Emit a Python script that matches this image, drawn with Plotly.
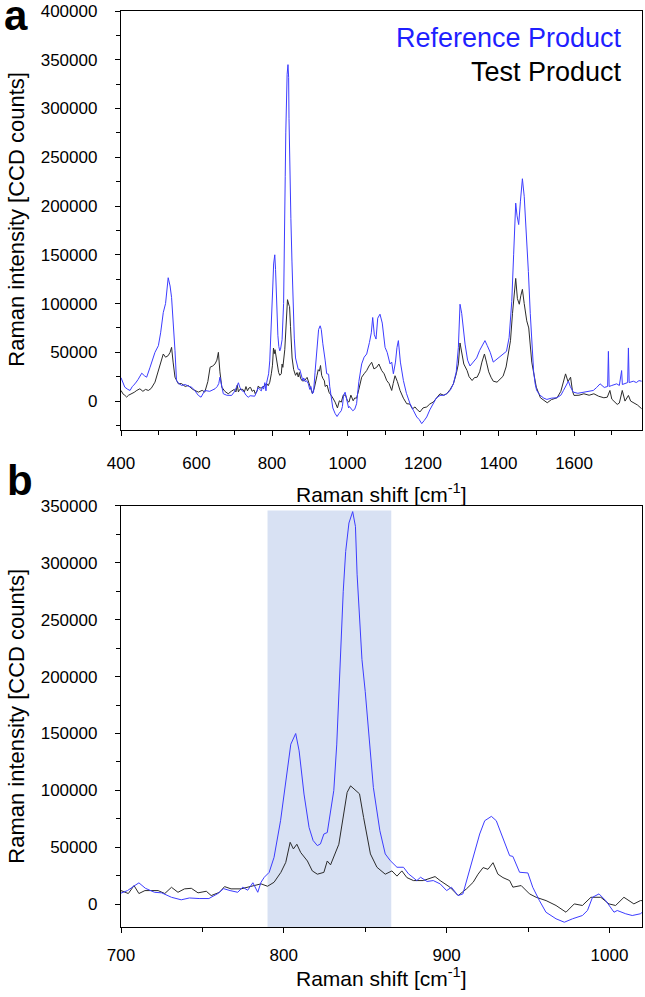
import plotly.graph_objects as go

# ---------------- data ----------------
ref_shift = [400, 405, 410, 418, 424, 430, 437, 445, 455, 462, 468, 477, 485, 490, 499, 505, 512, 518,
             525, 530, 534, 540, 543, 547, 553, 561, 570, 580, 587, 595, 605, 612, 622, 635, 649, 655,
             659, 662, 666, 671, 680, 693,
             700, 704, 708, 711, 715, 720.6, 725, 731, 737, 742, 748, 754, 759.5, 763, 767, 771.7,
             774.8, 777.8, 781, 784, 786, 788, 791, 794, 798, 802, 804.3, 807.3, 809.4, 812.4, 815.5,
             818, 820.6, 822.5, 824.6, 826.7, 830.7, 832.5, 833.8, 835, 836.5, 838, 840, 842.3, 844,
             845, 846.5, 848, 850, 852.8, 855,
             859, 862.3, 865.4, 869.5, 873.5, 876.6, 881.7, 884, 888, 891.8, 896, 900, 903, 907, 910,
             914, 917, 920.3, 923.4, 927.5, 930.5, 934.6, 938.7, 940.7, 944.8, 949.9, 952.9, 957, 961,
             967.2, 972.3, 977.3, 983.4, 986.5, 989.6, 993.6, 997.7, 1002.8, 1004.8, 1010, 1014, 1019,
             1024, 1030, 1037.5, 1044, 1050.8, 1058, 1063, 1066.7, 1071, 1075.5, 1080, 1086, 1092,
             1099.4, 1105, 1112.6, 1117, 1121.5, 1127, 1131, 1134.7, 1140, 1148, 1156, 1165.6, 1175,
             1183.3, 1190, 1196.5, 1203, 1209.8, 1218, 1227.4, 1235, 1245, 1255, 1262.7, 1272, 1280.4,
             1288, 1293.6, 1298, 1302.4, 1307, 1311.3, 1318, 1324.5, 1333, 1342, 1350, 1358, 1364,
             1370, 1378, 1386, 1392, 1400, 1410, 1421, 1428, 1435, 1440, 1445.5, 1449, 1453.4, 1458,
             1463.2, 1468, 1474.7, 1479, 1484, 1488, 1493, 1497, 1501, 1510, 1520, 1528, 1540, 1554,
             1565, 1572, 1580, 1585, 1590, 1598, 1610, 1625, 1640, 1651, 1660, 1669, 1680, 1689, 1691,
             1693, 1700, 1713, 1720, 1726, 1728, 1735, 1742, 1744, 1746, 1757, 1765, 1772, 1779]
ref_intensity = [24000, 20000, 14300, 12000, 10900, 15000, 17700, 22000, 28600, 26000, 24500, 34700,
                 45000, 50000, 56800, 70000, 90800, 100000, 126500, 118000, 106100, 75000, 51700, 21100,
                 18000, 16000, 17000, 15000, 14300, 11000, 5800, 4000, 10900, 10000, 12600, 15000, 18000,
                 24500, 15000, 7500, 6000, 5800,
                 9400, 12000, 16000, 18800, 14000, 10500, 10000, 6100, 3900, 5500, 5000, 5000, 9400,
                 13700, 12000, 10500, 15000, 12300, 18900, 10500, 19300, 23700, 28000, 41200, 73400,
                 117000, 140600, 150000, 134800, 96800, 67500, 56000, 51500, 53000, 61700, 63000, 100000,
                 140000, 187000, 230000, 275000, 310000, 335000, 345000, 332000,
                 290000, 250000, 215000, 187000, 143600, 102600,
                 64600, 44200, 38300,
                 32500, 32500, 26700, 20800, 23700, 20000, 20800, 17900, 12000, 14900, 7600, 9100, 29600,
                 44200, 61700, 73400, 77200, 73400, 58800, 42700, 42000, 28100, 27500, 14900, 3200, -7000,
                 -12800, -15800, -12800, -9900, -5500, 6100, 9100, 3200, -7000, -5500, -8400, -9900, -8400,
                 -2700, 20000, 38100, 45000, 48300, 60000, 70000, 85700, 68000, 63600, 85000, 89100, 80000,
                 55100, 50000, 38100, 40000, 28000, 40000, 55000, 62000, 40000, 21100, 8000, -2700, -10000,
                 -16300, -19000, -23100, -20000, -16300, -9000, -2700, 3000, 5800, 6000, 7500, 11000, 17700,
                 30000, 55100, 99300, 90000, 70000, 58400, 42000, 36000, 40000, 44200, 52000, 58000, 62000,
                 57000, 50000, 40000, 42000, 44000, 47000, 51000, 65000, 102000, 150000, 203000, 190000,
                 181000, 205000, 228000, 210000, 170000, 133000, 90000, 58500, 30000, 17700, 10900, 6000,
                 3000, 1700, 3000, 3400, 6000, 10900, 17000, 20400, 15000, 9200, 8000, 9200, 10000, 10900,
                 14000, 17700, 14000, 15000, 51000, 15000, 16000, 17700, 16000, 31300, 17000, 18000, 19000,
                 54500, 19000, 20400, 19000, 21000, 20400]

test_shift = [400, 406, 410, 415, 420, 428, 435, 442, 450, 458, 465, 472.5, 480, 490, 498, 505, 512, 518,
              525, 530, 534, 538, 543, 552, 560, 570, 578, 590, 605, 615, 622, 630, 636, 643, 649, 654,
              658, 662, 667, 675, 684, 692,
              700, 704.5, 708, 711, 714.7, 722.8, 726.9, 731, 735, 739, 743.2, 747.3, 752.4, 755.4,
              760.5, 763.6, 767.6, 773.7, 777.8, 781.9, 786, 790, 794, 798.2, 801.2, 803.9, 805.9, 808,
              810.4, 814.5, 817.5, 820.6, 824.6, 826.7, 828.7, 833.8, 835.5, 838.9, 841, 845, 846.5, 849,
              853.2, 857.2, 862.3, 866.4, 869.5, 872.5, 875.6, 879.6, 885.7, 892.9, 896, 902, 907.1,
              912.2, 916.3, 919.3, 922.4, 925.4, 928.5, 931.5, 934.6, 938.7, 940.7, 945.8, 950.9, 955,
              961.1, 967.2, 973.3, 978.4, 983.4, 988.6, 994.7, 999.7, 1003.8, 1008.9, 1015, 1019,
              1024, 1030, 1037.5, 1044, 1050.8, 1057, 1064, 1070, 1077.3, 1083, 1090.5, 1097, 1103.8,
              1110, 1117, 1121, 1125.8, 1132, 1139.1, 1148, 1156.8, 1165, 1172, 1178.8, 1185, 1192, 1200,
              1209.8, 1218, 1227.4, 1235, 1245, 1255, 1262.7, 1272, 1280.4, 1288, 1293.6, 1298, 1302.4,
              1308, 1316.7, 1322, 1330, 1336, 1343.3, 1350, 1356, 1362.7, 1368, 1374, 1380, 1386, 1396,
              1404, 1412, 1420, 1427, 1431.6, 1437, 1441, 1445.5, 1450, 1455, 1459, 1463.2, 1468, 1474.7,
              1480, 1483.4, 1488, 1492, 1496, 1500, 1511, 1520, 1529, 1540, 1555, 1565, 1572, 1577.5,
              1584, 1590.8, 1596, 1600, 1613, 1626, 1640, 1652.6, 1665, 1679, 1688, 1695, 1700, 1714.4,
              1720, 1727.7, 1735, 1744, 1750, 1758.6, 1768, 1779]
test_intensity = [10900, 7000, 6000, 4100, 6000, 7500, 9000, 11000, 12600, 10000, 12000, 10900, 13000,
                  19400, 30000, 40000, 48300, 45000, 46600, 50000, 55100, 40000, 24500, 17700, 18000,
                  15000, 16000, 12000, 9200, 11000, 9200, 20000, 34700, 36000, 38100, 42000, 50000, 30000,
                  14300, 10000, 7500, 10000,
                  12000, 9400, 16400, 9400, 12000, 12000, 9400, 14900, 10500, 13500, 14000, 10000, 11400,
                  7600, 10500, 15500, 13500, 13500, 15000, 16400, 17900, 15800, 19300, 28000, 36800, 54400,
                  48600, 52700, 45400, 38000, 29300, 26400, 28000, 38000, 34600, 52700, 67500, 98300,
                  104000, 98300, 97000, 76300, 44200, 32500, 26400, 29300, 24700, 29300, 23400, 20800,
                  20800, 24300, 20800, 15000, 7600, 13500, 19300, 26400, 32200, 30700, 36500, 26400, 23400,
                  20800, 15000, 16400, 9100, 6100, 3200, -1100, -7000, 300, -1100, 6100, 6100, 300, -1100,
                  6100, 300, 3200,
                  3000, 12000, 24500, 28000, 31300, 36000, 39800, 33000, 34700, 38000, 31300, 28000, 21100,
                  18000, 10900, 18000, 26000, 20000, 10900, 3000, -2700, -3000, -8000, -6000, -9000, -11100,
                  -7000, -6000, -3000, -900, 3000, 7500, 6000, 7500, 12000, 17700, 28000, 38100, 59600,
                  50000, 38000, 31300, 25000, 21100, 24000, 24500, 30000, 40000, 48300, 40000, 30000, 24500,
                  20400, 19400, 22000, 25500, 35000, 50000, 61900, 90000, 110000, 125800, 105000, 99300,
                  108000, 114600, 100000, 82300, 75000, 60200, 40000, 31300, 20000, 14300, 3400, 1000,
                  -1700, 1500, 3400, 10000, 20000, 27900, 20000, 24500, 10000, 5800, 6000, 7500, 6000, 7500,
                  5000, 3400, 4000, 10900, 2000, -3400, -2000, 10900, 0, 5800, 0, -1700, -4000, -7800]

series_names = ["Reference Product", "Test Product"]
highlight_band = [790, 866]   # shaded band in panel b (cm-1)
highlight_top = 346000

# ---------------- figure ----------------
BLUE = "#3c3cff"
BLACK = "#2b2b2b"
FONT = "Liberation Sans, Arial, sans-serif"
TICK_SIZE = 17
TITLE_SIZE = 21

fig = go.Figure()
for xa, ya in (("x", "y"), ("x2", "y2")):
    fig.add_trace(go.Scatter(x=test_shift, y=test_intensity, mode="lines", name=series_names[1],
                             line=dict(color=BLACK, width=1), xaxis=xa, yaxis=ya, showlegend=False))
    fig.add_trace(go.Scatter(x=ref_shift, y=ref_intensity, mode="lines", name=series_names[0],
                             line=dict(color=BLUE, width=1), xaxis=xa, yaxis=ya, showlegend=False))

fig.add_shape(type="rect", xref="x2", yref="y2", x0=highlight_band[0], x1=highlight_band[1],
              y0=-20000, y1=highlight_top, fillcolor="#d8e1f3", line=dict(width=0), layer="below")

axis_common = dict(showline=True, mirror=True, linecolor="black", linewidth=1.3, ticks="outside",
                   ticklen=5, tickwidth=1.2, tickcolor="black", showgrid=False, zeroline=False,
                   tickfont=dict(family=FONT, size=TICK_SIZE, color="black"))

fig.update_layout(
    width=645, height=997,
    margin=dict(l=121, r=2, t=9, b=70),
    paper_bgcolor="white", plot_bgcolor="white",
    font=dict(family=FONT, color="black"),
    xaxis=dict(domain=[0, 1], range=[400, 1780], tick0=400, dtick=200, anchor="y",
               minor=dict(dtick=100, ticks="outside", ticklen=4, tickcolor="black"),
               ticklabelstandoff=12, **axis_common),
    yaxis=dict(domain=[0.5422, 1], range=[-30000, 400000], tick0=0, dtick=50000, tickformat="d",
               anchor="x", minor=dict(dtick=25000, ticks="outside", ticklen=4, tickcolor="black"),
               ticklabelstandoff=14, **axis_common),
    xaxis2=dict(domain=[0, 1], range=[700, 1020], tick0=700, dtick=100, anchor="y2",
                minor=dict(dtick=50, ticks="outside", ticklen=4, tickcolor="black"),
                ticklabelstandoff=7, **axis_common),
    yaxis2=dict(domain=[0, 0.4597], range=[-20000, 350000], tick0=0, dtick=50000, tickformat="d",
                anchor="x2", minor=dict(dtick=25000, ticks="outside", ticklen=4, tickcolor="black"),
                ticklabelstandoff=14, **axis_common),
)

def px_to_paper_y(py):
    return (927 - py) / 918

def px_to_paper_x(px):
    return (px - 121) / 522

for py in (492, 977):
    fig.add_annotation(text="Raman shift [cm<sup>-1</sup>]", x=px_to_paper_x(382), y=px_to_paper_y(py),
                       xref="paper", yref="paper", showarrow=False, xanchor="center", yanchor="middle",
                       font=dict(family=FONT, size=TITLE_SIZE, color="black"))

for py in (218, 716):
    fig.add_annotation(text="Raman intensity [CCD counts]", x=px_to_paper_x(16), y=px_to_paper_y(py),
                       xref="paper", yref="paper", showarrow=False, textangle=-90,
                       xanchor="center", yanchor="middle",
                       font=dict(family=FONT, size=22, color="black"))

fig.add_annotation(text="<b>a</b>", x=px_to_paper_x(16), y=px_to_paper_y(14), xref="paper", yref="paper",
                   showarrow=False, xanchor="center", yanchor="middle",
                   font=dict(family=FONT, size=42, color="black"))
fig.add_annotation(text="<b>b</b>", x=px_to_paper_x(20), y=px_to_paper_y(480), xref="paper", yref="paper",
                   showarrow=False, xanchor="center", yanchor="middle",
                   font=dict(family=FONT, size=42, color="black"))

fig.add_annotation(text=series_names[0], x=px_to_paper_x(625), y=px_to_paper_y(36), xref="paper",
                   yref="paper", showarrow=False, xanchor="right", yanchor="middle",
                   font=dict(family=FONT, size=27, color="#1f1fff"))
fig.add_annotation(text=series_names[1], x=px_to_paper_x(625), y=px_to_paper_y(70), xref="paper",
                   yref="paper", showarrow=False, xanchor="right", yanchor="middle",
                   font=dict(family=FONT, size=27, color="black"))

fig.write_html("out.html", config={"displayModeBar": False},
               post_script="document.body.style.margin='0px';")
